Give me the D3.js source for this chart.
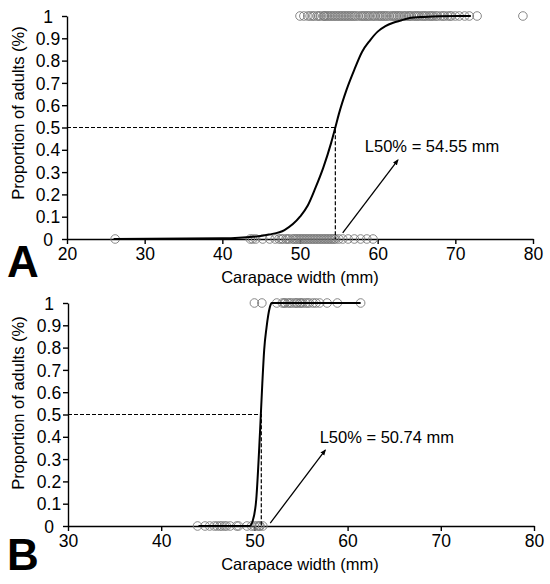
<!DOCTYPE html>
<html>
<head>
<meta charset="utf-8">
<script src="https://cdn.jsdelivr.net/npm/d3@7"></script>
<style>
  body { margin: 0; background: #fff; }
  svg text { font-family: "Liberation Sans", Arial, sans-serif; fill: #000; }
</style>
</head>
<body>
<div id="chart"></div>
<script>
// ---- data ----
var yTicks = [0, 0.1, 0.2, 0.3, 0.4, 0.5, 0.6, 0.7, 0.8, 0.9, 1];
var yTickLabels = ["0", "0.1", "0.2", "0.3", "0.4", "0.5", "0.6", "0.7", "0.8", "0.9", "1"];

// panel A
var xTicksA = [20, 30, 40, 50, 60, 70, 80];
var adultsA = [50.0, 50.5, 51.0, 51.3, 51.6, 51.8, 52.2, 52.4, 52.6, 53.0, 53.1, 53.2, 53.4, 53.6, 53.8,
  54.0, 54.2, 54.4, 54.6, 54.8, 55.0, 55.2, 55.4, 55.6, 55.8, 56.0, 56.2, 56.4, 56.6, 56.8, 57.0, 57.2,
  57.5, 57.8, 58.0, 58.2, 58.4, 58.6, 58.8, 59.0, 59.3, 59.5, 59.7, 60.0, 60.2, 60.4, 60.6, 60.8, 61.0,
  61.2, 61.5, 61.8, 62.0, 62.2, 62.4, 62.6, 62.8, 63.0, 63.3, 63.5, 63.7, 64.0, 64.1, 64.3, 64.6, 64.8,
  65.0, 65.2, 65.4, 65.7, 65.9, 66.1, 66.3, 66.6, 66.8, 67.0, 67.2, 67.5, 67.7, 68.1, 68.4, 68.6, 69.0,
  69.3, 69.5, 70.0, 70.5, 71.2, 71.8, 72.8, 78.7];
var juvenilesA = [26.2, 43.6, 43.9, 44.3, 45.2, 46.1, 46.8, 47.3, 47.6, 47.8, 48.2, 48.4, 48.6, 49.0,
  49.2, 49.4, 49.6, 49.8, 50.0, 50.2, 50.4, 50.6, 50.8, 51.0, 51.2, 51.4, 51.6, 51.8, 52.0, 52.2, 52.4,
  52.6, 52.8, 53.0, 53.2, 53.4, 53.6, 53.8, 54.0, 54.2, 54.4, 54.6, 55.0, 55.5, 56.2, 57.0, 57.8, 58.6, 59.4];
var curveAx = [26, 40, 44, 46, 48, 50, 51, 52, 53, 54, 54.55, 55, 56, 57, 58, 59, 60, 61, 62, 63, 64, 66, 68, 72];
var curveAy = [0, 0.003, 0.01, 0.02, 0.04, 0.1, 0.15, 0.23, 0.32, 0.43, 0.5, 0.56, 0.67, 0.76, 0.84, 0.89,
  0.93, 0.955, 0.97, 0.98, 0.99, 0.996, 0.999, 1];
var l50A = 54.55;

// panel B
var xTicksB = [30, 40, 50, 60, 70, 80];
var adultsB = [50.0, 50.8, 52.4, 53.0, 53.2, 53.3, 53.6, 53.8, 54.0, 54.3, 54.5, 54.6, 54.9, 55.0, 55.2,
  55.5, 55.7, 55.9, 56.3, 56.6, 57.0, 57.8, 58.9, 61.4];
var juvenilesB = [43.9, 44.7, 45.2, 45.7, 46.0, 46.3, 46.5, 46.8, 47.0, 47.4, 48.1, 48.3, 49.2, 49.7,
  50.0, 50.3, 50.5, 50.6, 50.9];
var curveBx = [44, 49.5, 49.8, 50.2, 50.6, 50.85, 51.05, 51.3, 51.65, 51.85, 61.4];
var curveBy = [0, 0, 0.02, 0.12, 0.42, 0.64, 0.79, 0.89, 0.98, 1, 1];
var l50B = 50.74;

var svgWidth = 550;
var svgHeight = 584;

var svg = d3.select("#chart")
  .append("svg")
  .attr("width", svgWidth)
  .attr("height", svgHeight);

function drawPanel(p) {
  var x = d3.scaleLinear().domain(p.xDomain).range([p.left, p.right]);
  var y = d3.scaleLinear().domain([0, 1]).range([p.bottom, p.top]);
  var g = svg.append("g");

  // axes
  var yAxis = g.append("g")
    .attr("transform", `translate(${p.left}, 0)`)
    .call(d3.axisLeft(y).tickValues(yTicks).tickSize(5).tickSizeOuter(0)
      .tickFormat((d, i) => yTickLabels[i]));
  var xAxis = g.append("g")
    .attr("transform", `translate(0, ${p.bottom})`)
    .call(d3.axisBottom(x).tickValues(p.xTicks).tickSize(5).tickSizeOuter(0).tickPadding(4));

  [xAxis, yAxis].forEach(function(a) {
    a.selectAll("path, line").attr("stroke", "#000").attr("stroke-width", 1.4);
    a.selectAll("text").style("font-size", "17.5px");
  });
  yAxis.selectAll("text")
    .attr("text-anchor", "middle")
    .attr("x", -19)
    .attr("dy", "0.35em");

  // points
  g.append("g").selectAll("circle")
    .data(p.adults.map(v => [v, 1]).concat(p.juveniles.map(v => [v, 0])))
    .enter()
    .append("circle")
    .attr("cx", d => x(d[0]))
    .attr("cy", d => y(d[1]))
    .attr("r", 4.3)
    .attr("fill", "none")
    .attr("stroke", "#7a7a7a")
    .attr("stroke-width", 0.9);

  // fitted curve
  var line = d3.line()
    .x(d => x(d[0]))
    .y(d => y(d[1]))
    .curve(d3.curveMonotoneX);
  g.append("path")
    .datum(p.curveX.map((v, i) => [v, p.curveY[i]]))
    .attr("d", line)
    .attr("fill", "none")
    .attr("stroke", "#000")
    .attr("stroke-width", 2);

  // L50 guides
  g.append("path")
    .attr("d", `M${x(p.xDomain[0])},${y(0.5)}H${x(p.l50)}V${y(0)}`)
    .attr("fill", "none")
    .attr("stroke", "#000")
    .attr("stroke-width", 1.2)
    .attr("stroke-dasharray", "4,2");

  // arrow + label
  g.append("line")
    .attr("x1", x(p.arrow[0])).attr("y1", y(p.arrow[1]))
    .attr("x2", x(p.arrow[2])).attr("y2", y(p.arrow[3]))
    .attr("stroke", "#000")
    .attr("stroke-width", 1.3)
    .attr("marker-end", "url(#head)");
  g.append("text")
    .attr("x", x(p.labelAt[0]))
    .attr("y", y(p.labelAt[1]))
    .style("font-size", "16.5px")
    .text(p.label);

  // axis titles
  g.append("text")
    .attr("x", 300)
    .attr("y", p.bottom + 44)
    .attr("text-anchor", "middle")
    .style("font-size", "16.5px")
    .text("Carapace width (mm)");
  g.append("text")
    .attr("transform", `translate(23.5, ${p.yTitle}) rotate(-90)`)
    .attr("text-anchor", "middle")
    .style("font-size", "16.5px")
    .text("Proportion of adults (%)");

  // panel letter
  g.append("text")
    .attr("x", 7)
    .attr("y", p.letterY)
    .style("font-size", "44px")
    .style("font-weight", "bold")
    .text(p.letter);
}

svg.append("defs").append("marker")
  .attr("id", "head")
  .attr("viewBox", "0 0 10 10")
  .attr("refX", 8).attr("refY", 5)
  .attr("markerWidth", 6).attr("markerHeight", 6)
  .attr("markerUnits", "userSpaceOnUse")
  .attr("orient", "auto")
  .append("path")
  .attr("d", "M0,1L10,5L0,9Z")
  .attr("fill", "#000");

drawPanel({
  xDomain: [20, 80], xTicks: xTicksA, left: 67, right: 533, top: 16, bottom: 239,
  adults: adultsA, juveniles: juvenilesA, curveX: curveAx, curveY: curveAy, l50: l50A,
  arrow: [55.5, 0.027, 62.6, 0.354], labelAt: [58.35, 0.39], label: "L50% = 54.55 mm",
  yTitle: 113, letter: "A", letterY: 277
});

drawPanel({
  xDomain: [30, 80], xTicks: xTicksB, left: 68, right: 534, top: 303, bottom: 526,
  adults: adultsB, juveniles: juvenilesB, curveX: curveBx, curveY: curveBy, l50: l50B,
  arrow: [51.7, 0.013, 57.6, 0.34], labelAt: [57.0, 0.37], label: "L50% = 50.74 mm",
  yTitle: 403, letter: "B", letterY: 570
});
</script>
</body>
</html>
